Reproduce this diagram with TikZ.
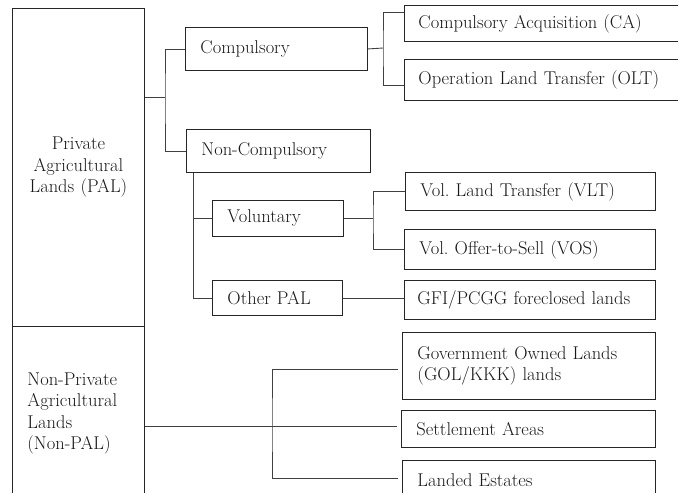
\documentclass[tikz,border=0pt]{standalone}
\usepackage{tikz}

\begin{document}
\begin{tikzpicture}[x=1pt, y=-1pt]
    \tikzstyle{every node}=[font=\fontsize{18.5}{21.5}\selectfont\frenchspacing, text=black!90]
    \tikzstyle{landbox}=[draw=black!85, line width=0.9pt, anchor=north west, align=left, inner xsep=15pt, inner ysep=0pt]
    \tikzstyle{link}=[draw=black!75, line width=0.9pt]
    \useasboundingbox (0,0) rectangle (678,493);
    \clip (0,0) rectangle (678,493);
    % left column
    \node[landbox, align=center, inner xsep=4pt, text width=124pt, minimum height=318pt] (pal) at (12,8) {Private\\Agricultural\\Lands (PAL)};
    \node[landbox, text width=102pt, minimum height=174pt] (nonpal) at (12,326) {Non-Private\\Agricultural\\Lands\\(Non-PAL)};
    % middle column
    \node[landbox, text width=152pt, minimum height=43pt] (comp) at (185,27) {Compulsory};
    \node[landbox, text width=154pt, minimum height=43pt] (noncomp) at (186,129) {Non-Compulsory};
    \node[landbox, text width=101pt, minimum height=36pt] (vol) at (212,200) {Voluntary};
    \node[landbox, text width=100pt, minimum height=35pt] (other) at (212,280) {Other PAL};
    % right column
    \node[landbox, inner xsep=14pt, text width=258pt, minimum height=36pt] (ca) at (404,5) {Compulsory Acquisition (CA)};
    \node[landbox, inner xsep=14pt, text width=258pt, minimum height=41pt] (olt) at (404,59) {Operation Land Transfer (OLT)};
    \node[landbox, text width=220pt, minimum height=38pt] (vlt) at (405,172) {Vol. Land Transfer (VLT)};
    \node[landbox, text width=221pt, minimum height=40pt] (vos) at (404,229) {Vol. Offer-to-Sell (VOS)};
    \node[landbox, inner xsep=13pt, text width=225pt, minimum height=39pt] (gfi) at (404,280) {GFI/PCGG foreclosed lands};
    \node[landbox, text width=223pt, minimum height=67pt] (gol) at (402,332) {Government Owned Lands\\(GOL/KKK) lands};
    \node[landbox, text width=224pt, minimum height=37pt] (settle) at (401,410) {Settlement Areas};
    \node[landbox, text width=223pt, minimum height=40pt] (landed) at (402,460) {Landed Estates};
    % forks
    \coordinate (palfork) at (165,97);
    \coordinate (compfork) at (383,48);
    \coordinate (ncstem) at ([xshift=7pt]noncomp.south west);
    \coordinate (volfork) at (373,218);
    \coordinate (npfork) at (272,426);
    % connectors
    \draw[link] (pal.east |- palfork) -- (palfork);
    \draw[link] (comp.west) -| (palfork) |- (noncomp.west);
    \draw[link] (comp.east) -- (compfork);
    \draw[link] ([yshift=-7pt]ca.north west) -| (compfork) |- ([yshift=15pt]olt.south west);
    \draw[link] (ncstem) |- (other.west);
    \draw[link] (ncstem |- vol.west) -- (vol.west);
    \draw[link] (vol.east) -- (vol.east -| volfork);
    \draw[link] (vlt.west) -| (volfork) |- (vos.west);
    \draw[link] (other.east) -- (other.east -| gfi.west);
    \draw[link] (nonpal.east |- npfork) -- ([xshift=-4pt]settle.west |- npfork);
    \draw[link] ([xshift=-4pt,yshift=-3pt]gol.west) -| (npfork) |- ([xshift=-4pt,yshift=2pt]landed.west);
\end{tikzpicture}
\end{document}
